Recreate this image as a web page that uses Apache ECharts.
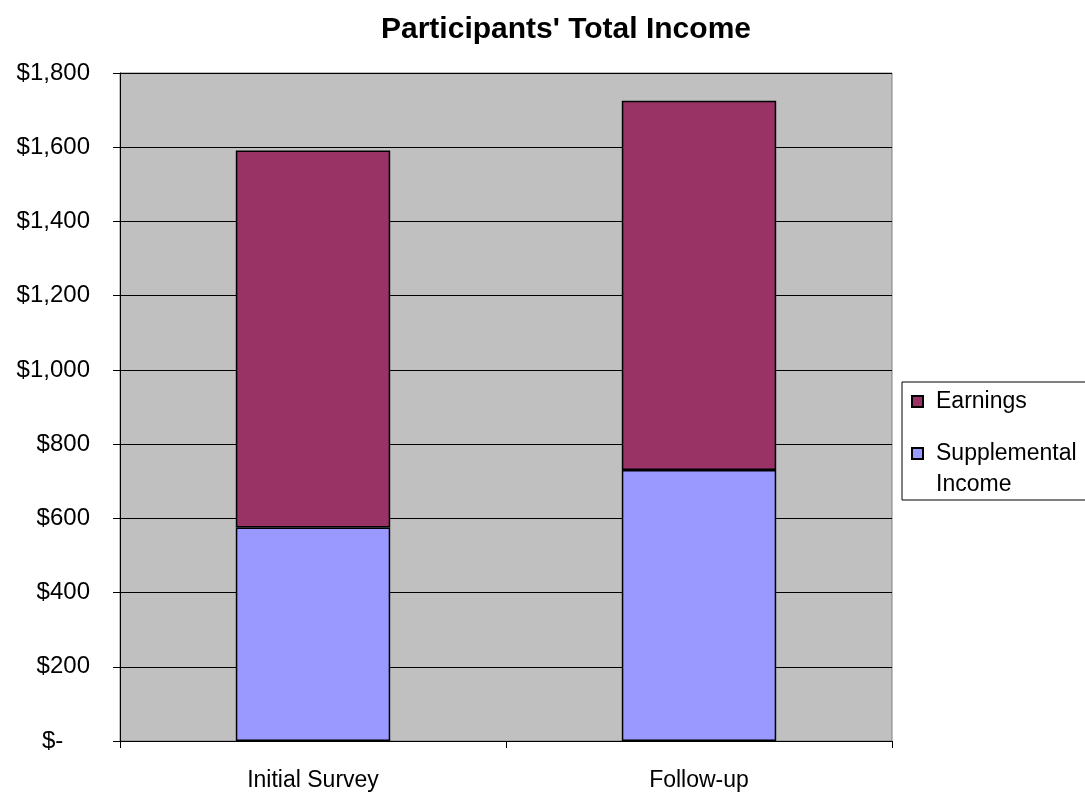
<!DOCTYPE html>
<html>
<head>
<meta charset="utf-8">
<title>Participants' Total Income</title>
<script src="https://cdn.jsdelivr.net/npm/echarts@6/dist/echarts.min.js"></script>
<style>
  html, body { margin: 0; padding: 0; background: #ffffff; }
  #chart { width: 1085px; height: 792px; }
</style>
</head>
<body>
<div id="chart"></div>
<script>
// Survey waves on the x axis
const categories = ['Initial Survey', 'Follow-up'];
// Monthly income components (USD)
const supplementalIncome = [575, 730];
const earnings = [1016, 995];
// Y axis range
const yMin = 0;
const yMax = 1800;
const yStep = 200;

const FONT = "'Liberation Sans', Arial, sans-serif";

function dollar(v) {
  if (v === 0) return '$-    ';
  return '$' + v.toLocaleString('en-US');
}

const chart = echarts.init(document.getElementById('chart'), null, { renderer: 'canvas' });

chart.setOption({
  animation: false,
  backgroundColor: '#ffffff',
  title: {
    text: "Participants' Total Income",
    left: 376,
    top: 10,
    textStyle: { fontFamily: FONT, fontSize: 30, fontWeight: 'bold', color: '#000000' }
  },
  legend: {
    orient: 'vertical',
    left: 902,
    top: 382,
    padding: [4, 40, 0, 9],
    itemGap: -10,
    itemWidth: 11,
    itemHeight: 11,
    borderColor: '#000000',
    borderWidth: 1,
    backgroundColor: '#ffffff',
    icon: 'rect',
    data: ['Earnings', 'Supplemental Income'],
    // the two-line label gets a blank leading line so its first line sits beside the swatch
    formatter: function (name) {
      return name === 'Supplemental Income' ? '\u00a0\nSupplemental\nIncome' : name;
    },
    textStyle: {
      fontFamily: FONT,
      fontSize: 23,
      lineHeight: 31,
      color: '#000000',
      padding: [0, 0, 0, 8]
    }
  },
  grid: {
    left: 120,
    right: 193,
    top: 73,
    bottom: 50,
    show: true,
    backgroundColor: '#C0C0C0',
    borderColor: '#808080',
    borderWidth: 1,
    containLabel: false
  },
  xAxis: {
    type: 'category',
    data: categories,
    axisLine: { show: true, lineStyle: { color: '#000000', width: 1 } },
    axisTick: { show: true, length: 7, lineStyle: { color: '#000000' } },
    axisLabel: { fontFamily: FONT, fontSize: 23, color: '#000000', margin: 28 },
    splitLine: { show: false }
  },
  yAxis: {
    type: 'value',
    min: yMin,
    max: yMax,
    interval: yStep,
    axisLine: { show: true, lineStyle: { color: '#000000', width: 1 } },
    axisTick: { show: true, length: 7, lineStyle: { color: '#000000' } },
    axisLabel: {
      fontFamily: FONT,
      fontSize: 24,
      color: '#000000',
      margin: 30,
      formatter: dollar
    },
    splitLine: { show: true, lineStyle: { color: '#000000', width: 1 } }
  },
  series: [
    {
      name: 'Supplemental Income',
      type: 'bar',
      stack: 'income',
      barWidth: '40%',
      data: supplementalIncome,
      itemStyle: { color: '#9999FF', borderColor: '#000000', borderWidth: 1.5 }
    },
    {
      name: 'Earnings',
      type: 'bar',
      stack: 'income',
      barWidth: '40%',
      data: earnings,
      itemStyle: { color: '#993366', borderColor: '#000000', borderWidth: 1.5 }
    }
  ]
});
</script>
</body>
</html>
